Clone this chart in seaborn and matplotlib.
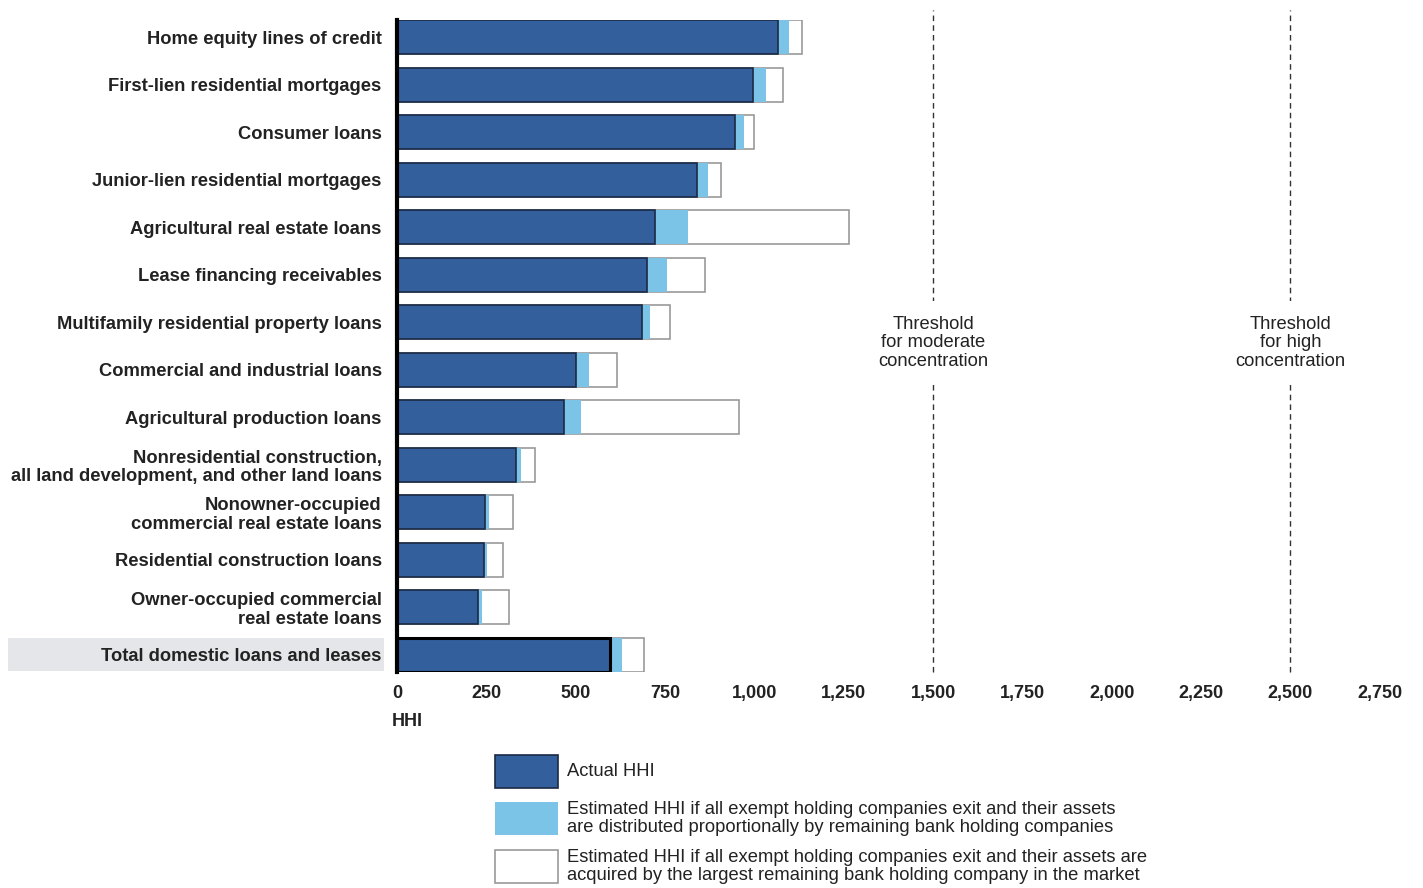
import seaborn as sns
import matplotlib.pyplot as plt
from matplotlib.patches import Rectangle

# Loan categories, top to bottom
categories = [
    "Home equity lines of credit",
    "First-lien residential mortgages",
    "Consumer loans",
    "Junior-lien residential mortgages",
    "Agricultural real estate loans",
    "Lease financing receivables",
    "Multifamily residential property loans",
    "Commercial and industrial loans",
    "Agricultural production loans",
    "Nonresidential construction,\nall land development, and other land loans",
    "Nonowner-occupied\ncommercial real estate loans",
    "Residential construction loans",
    "Owner-occupied commercial\nreal estate loans",
    "Total domestic loans and leases",
]

# HHI values
actual_hhi = [1065, 996, 945, 840, 723, 700, 685, 501, 468, 333, 247, 243, 227, 595]
proportional_hhi = [1098, 1033, 971, 870, 813, 755, 708, 538, 515, 346, 258, 251, 238, 629]
largest_hhi = [1134, 1079, 999, 906, 1266, 863, 764, 617, 956, 386, 324, 298, 314, 692]

thresholds = [1500, 2500]
threshold_labels = ["Threshold\nfor moderate\nconcentration", "Threshold\nfor high\nconcentration"]
xticks = [0, 250, 500, 750, 1000, 1250, 1500, 1750, 2000, 2250, 2500, 2750]

legend_labels = [
    "Actual HHI",
    "Estimated HHI if all exempt holding companies exit and their assets\n"
    "are distributed proportionally by remaining bank holding companies",
    "Estimated HHI if all exempt holding companies exit and their assets are\n"
    "acquired by the largest remaining bank holding company in the market",
]

dark_blue = "#335f9c"
light_blue = "#7cc3e8"
dark_edge = "#1b2a44"
grey_edge = "#9a9a9a"
txt = "#222222"

sns.set_style("white")
plt.rcParams["font.family"] = ["Liberation Sans", "DejaVu Sans"]

W, H = 1423, 888
fig = plt.figure(figsize=(W / 100, H / 100), dpi=100)
ax = fig.add_axes([397 / W, 1 - 672 / H, (1394 - 397) / W, (672 - 20) / H])

bar_w = 0.72
# stacked look: draw widest first, then overlay smaller values
sns.barplot(x=largest_hhi, y=categories, orient="h", color="white",
            edgecolor=grey_edge, linewidth=1.2, width=bar_w, saturation=1, ax=ax)
sns.barplot(x=proportional_hhi, y=categories, orient="h", color=light_blue,
            edgecolor="none", linewidth=0, width=bar_w, saturation=1, ax=ax)
sns.barplot(x=actual_hhi, y=categories, orient="h", color=dark_blue,
            edgecolor=dark_edge, linewidth=1.2, width=bar_w, saturation=1, ax=ax)

# thicker outline on the total bar
ax.patches[-1].set_linewidth(2.2)
ax.patches[-1].set_edgecolor("black")

ax.set_xlim(0, 2790)
ax.set_ylim(len(categories) - 1 + bar_w / 2, -bar_w / 2)

for t, lab in zip(thresholds, threshold_labels):
    ax.axvline(t, ymin=0, ymax=1.016, color="#333333", lw=1,
               linestyle=(0, (4, 3)), clip_on=False, zorder=1)
    ax.text(t, 6.43, lab, ha="center", va="center", fontsize=13.2,
            color=txt, linespacing=1.12,
            bbox=dict(boxstyle="square,pad=0.8", facecolor="white", edgecolor="none"),
            zorder=2)

for s in ["top", "right", "bottom"]:
    ax.spines[s].set_visible(False)
ax.spines["left"].set_linewidth(3)
ax.spines["left"].set_color("black")

ax.set_xticks(xticks)
ax.set_xticklabels([f"{v:,}" for v in xticks], fontsize=13, fontweight="bold", color=txt)
ax.tick_params(axis="x", length=0, pad=9)
ax.tick_params(axis="y", length=0, pad=11)
for lab in ax.get_yticklabels():
    lab.set_fontsize(13.2)
    lab.set_fontweight("bold")
    lab.set_color(txt)
    lab.set_linespacing(1.12)
ax.set_xlabel("")
ax.set_ylabel("")

# grey highlight behind the total label
fig.patches.append(Rectangle((8 / W, 1 - 671 / H), (384 - 8) / W, 33 / H,
                             transform=fig.transFigure, facecolor="#e4e6e9",
                             edgecolor="none", zorder=-1))

fig.text(392 / W, 1 - 721 / H, "HHI", fontsize=13, fontweight="bold",
         color=txt, va="center", ha="left")

# legend drawn as boxes + text
leg_styles = [
    dict(facecolor=dark_blue, edgecolor=dark_edge, linewidth=1.2),
    dict(facecolor=light_blue, edgecolor="none"),
    dict(facecolor="white", edgecolor=grey_edge, linewidth=1.2),
]
leg_tops = [755, 802, 850]
for top, style, lab in zip(leg_tops, leg_styles, legend_labels):
    fig.patches.append(Rectangle((495 / W, 1 - (top + 33) / H), 63 / W, 33 / H,
                                 transform=fig.transFigure, **style))
    fig.text(567 / W, 1 - (top + 16.5) / H, lab, fontsize=13.2, color=txt,
             va="center", ha="left", linespacing=1.12)

fig.savefig("out.png", dpi=100, facecolor="white")
